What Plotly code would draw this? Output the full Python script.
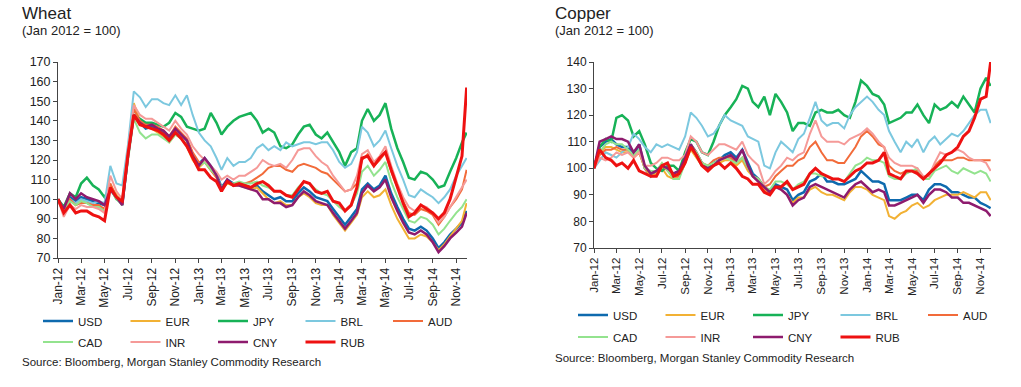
import plotly.graph_objects as go

# ---------------- data ----------------
dates = []
for y in (2012, 2013, 2014):
    for mo in range(1, 13):
        if y == 2014 and mo == 12:
            break
        dates.append(f"{y}-{mo:02d}-01")
        dates.append(f"{y}-{mo:02d}-16")
dates.append("2014-11-28")

tick_dates = ["2012-01-01", "2012-03-01", "2012-05-01", "2012-07-01", "2012-09-01", "2012-11-01",
              "2013-01-01", "2013-03-01", "2013-05-01", "2013-07-01", "2013-09-01", "2013-11-01",
              "2014-01-01", "2014-03-01", "2014-05-01", "2014-07-01", "2014-09-01", "2014-11-01"]
tick_labels = ["Jan-12", "Mar-12", "May-12", "Jul-12", "Sep-12", "Nov-12",
               "Jan-13", "Mar-13", "May-13", "Jul-13", "Sep-13", "Nov-13",
               "Jan-14", "Mar-14", "May-14", "Jul-14", "Sep-14", "Nov-14"]

currencies = ["USD", "EUR", "JPY", "BRL", "AUD", "CAD", "INR", "CNY", "RUB"]

# Wheat (Jan 2012 = 100)
wheat_usd = [100, 94, 101, 99, 101, 100, 99, 98, 97, 105,
             101, 97, 122, 143, 139, 136, 137, 136, 134, 131,
             136, 133, 130, 123, 118, 121, 117, 113, 106, 110,
             108, 108, 107, 106, 107, 104, 102, 100, 101, 99,
             99, 103, 106, 104, 101, 100, 99, 95, 91, 87,
             91, 95, 105, 108, 105, 107, 112, 103, 96, 90,
             85, 84, 86, 84, 80, 75, 78, 82, 85, 88,
             94]
wheat_eur = [100, 94, 100, 97, 99, 98, 97, 96, 95, 107,
             102, 98, 124, 149, 140, 137, 136, 134, 132, 129,
             133, 131, 127, 120, 116, 119, 115, 111, 105, 108,
             107, 107, 106, 105, 106, 103, 100, 98, 99, 97,
             97, 101, 103, 101, 98, 97, 97, 92, 88, 84,
             88, 92, 101, 104, 101, 102, 105, 97, 90, 85,
             80, 80, 82, 81, 78, 74, 77, 81, 85, 89,
             98]
wheat_jpy = [100, 96, 103, 101, 108, 111, 107, 105, 101, 106,
             100, 98, 124, 143, 141, 139, 139, 138, 137, 139,
             144, 142, 137, 136, 135, 136, 144, 139, 133, 137,
             140, 142, 143, 144, 140, 134, 136, 134, 127, 126,
             128, 133, 137, 138, 133, 131, 134, 129, 124, 117,
             124, 126, 140, 146, 140, 143, 149, 136, 126, 119,
             111, 110, 114, 113, 110, 106, 107, 114, 121, 129,
             134]
wheat_brl = [100, 95, 100, 98, 100, 99, 98, 99, 98, 117,
             108, 107, 128, 155, 152, 147, 151, 151, 149, 148,
             153, 148, 153, 143, 134, 130, 127, 121, 115, 121,
             117, 119, 119, 121, 126, 128, 125, 127, 125, 129,
             127, 128, 129, 129, 128, 129, 129, 125, 119, 116,
             118, 124, 137, 134, 127, 130, 135, 126, 117, 110,
             102, 101, 105, 103, 101, 98, 101, 105, 112, 117,
             121]
wheat_aud = [100, 94, 100, 97, 98, 98, 97, 97, 95, 108,
             101, 98, 123, 146, 140, 138, 138, 137, 135, 132,
             137, 134, 131, 124, 119, 119, 115, 111, 105, 109,
             107, 108, 108, 109, 111, 113, 116, 117, 117, 115,
             114, 117, 118, 117, 116, 114, 113, 110, 107, 104,
             105, 108, 120, 123, 117, 120, 124, 114, 106, 99,
             93, 92, 95, 94, 92, 87, 91, 96, 100, 105,
             115]
wheat_cad = [100, 94, 99, 97, 99, 98, 96, 96, 94, 105,
             100, 97, 120, 141, 134, 131, 133, 133, 131, 129,
             133, 131, 128, 121, 117, 119, 115, 112, 106, 109,
             108, 109, 108, 108, 109, 107, 106, 104, 104, 102,
             102, 106, 109, 108, 105, 103, 102, 99, 96, 94,
             97, 103, 114, 117, 112, 115, 119, 109, 101, 95,
             89, 88, 91, 90, 87, 82, 85, 89, 93, 96,
             100]
wheat_inr = [100, 91, 97, 95, 97, 96, 96, 95, 93, 112,
             104, 100, 126, 148, 143, 141, 141, 139, 137, 135,
             140, 136, 133, 127, 123, 120, 117, 114, 110, 112,
             110, 112, 112, 114, 116, 120, 118, 117, 118, 116,
             120, 125, 126, 126, 122, 119, 117, 112, 108, 104,
             105, 112, 123, 125, 119, 122, 127, 117, 108, 101,
             96, 94, 97, 96, 93, 88, 91, 96, 101, 106,
             110]
wheat_cny = [100, 95, 103, 100, 103, 101, 100, 99, 97, 105,
             101, 97, 122, 143, 139, 137, 138, 136, 135, 132,
             136, 133, 130, 122, 117, 121, 117, 112, 105, 110,
             107, 107, 106, 105, 104, 100, 100, 98, 98, 96,
             97, 101, 104, 102, 99, 98, 97, 93, 89, 85,
             89, 93, 103, 107, 104, 106, 110, 101, 94, 88,
             83, 82, 84, 82, 78, 73, 76, 80, 83, 86,
             93]
wheat_rub = [100, 93, 97, 93, 94, 94, 92, 91, 89, 106,
             101, 99, 123, 143, 138, 137, 136, 135, 133, 130,
             134, 131, 127, 121, 115, 115, 111, 109, 104, 109,
             107, 108, 107, 106, 108, 109, 107, 104, 104, 102,
             101, 105, 109, 108, 104, 103, 104, 99, 98, 94,
             97, 106, 121, 122, 117, 121, 124, 115, 106, 98,
             91, 93, 97, 95, 93, 90, 93, 100, 112, 122,
             157]

# Copper (Jan 2012 = 100)
copper_usd = [100, 108, 110, 111, 109, 108, 108, 105, 109, 100,
              97, 99, 101, 100, 98, 99, 104, 109, 106, 102,
              100, 102, 103, 105, 106, 104, 107, 102, 98, 96,
              93, 91, 94, 93, 92, 88, 90, 91, 95, 96,
              98, 95, 95, 94, 94, 95, 96, 99, 97, 95,
              95, 94, 88, 88, 88, 89, 90, 90, 88, 92,
              94, 94, 93, 91, 91, 90, 89, 89, 87, 86,
              85]
copper_eur = [100, 106, 108, 108, 107, 106, 106, 104, 106, 100,
              97, 98, 100, 97, 96, 97, 102, 107, 104, 101,
              100, 101, 102, 103, 103, 101, 103, 99, 97, 95,
              92, 91, 93, 92, 90, 87, 89, 89, 92, 93,
              91, 90, 90, 89, 88, 91, 93, 93, 92, 90,
              89, 88, 82, 81, 83, 84, 86, 87, 85, 86,
              88, 89, 90, 90, 90, 91, 90, 89, 91, 91,
              88]
copper_jpy = [100, 108, 111, 110, 119, 120, 118, 112, 114, 109,
              102, 100, 99, 101, 101, 99, 106, 111, 110, 106,
              105, 110, 116, 120, 123, 126, 131, 130, 125, 123,
              127, 120, 128, 125, 121, 114, 117, 117, 116, 121,
              122, 121, 121, 122, 120, 119, 125, 133, 131, 128,
              127, 124, 117, 118, 119, 121, 121, 124, 120, 117,
              124, 122, 123, 125, 123, 127, 124, 121, 130, 134,
              131]
copper_brl = [100, 103, 106, 105, 104, 106, 108, 113, 111, 108,
              106, 109, 108, 109, 108, 107, 112, 121, 119, 116,
              112, 113, 116, 120, 118, 117, 116, 112, 111, 110,
              101, 100, 106, 110, 108, 106, 111, 113, 119, 125,
              118, 116, 117, 117, 115, 120, 123, 125, 127, 125,
              122, 120, 114, 110, 106, 110, 108, 111, 106, 110,
              112, 109, 111, 113, 112, 114, 117, 120, 122, 122,
              117]
copper_aud = [100, 105, 107, 107, 108, 107, 107, 104, 106, 100,
              98, 99, 101, 99, 97, 97, 102, 109, 106, 102,
              101, 103, 104, 104, 104, 102, 104, 100, 97, 96,
              93, 94, 97, 99, 101, 101, 103, 104, 108, 110,
              106, 103, 103, 102, 102, 105, 108, 112, 114, 112,
              109, 108, 101, 99, 98, 99, 99, 99, 96, 98,
              101, 103, 103, 103, 104, 104, 103, 103, 103, 103,
              103]
copper_cad = [100, 106, 109, 110, 109, 109, 107, 105, 107, 100,
              99, 99, 102, 99, 96, 96, 102, 108, 106, 102,
              101, 102, 103, 104, 103, 102, 104, 100, 97, 96,
              93, 92, 95, 95, 94, 92, 94, 95, 98, 98,
              97, 97, 96, 96, 95, 98, 101, 102, 104, 103,
              103, 102, 97, 96, 96, 98, 99, 100, 96, 96,
              99, 100, 101, 99, 98, 100, 99, 98, 99, 98,
              95]
copper_inr = [100, 104, 103, 104, 106, 105, 106, 104, 106, 101,
              101, 102, 104, 104, 103, 103, 105, 112, 110, 106,
              105, 107, 109, 109, 108, 107, 110, 105, 103, 101,
              94, 96, 99, 101, 104, 103, 105, 106, 113, 118,
              112, 110, 110, 110, 109, 111, 112, 113, 115, 113,
              110, 108, 104, 102, 101, 101, 101, 100, 97, 97,
              102, 106, 105, 106, 107, 106, 104, 103, 103, 102,
              99]
copper_cny = [100, 110, 111, 112, 111, 111, 110, 106, 109, 101,
              98, 99, 101, 100, 98, 99, 104, 109, 105, 101,
              100, 101, 103, 104, 105, 103, 107, 101, 97, 95,
              93, 91, 93, 92, 90, 86, 88, 89, 93, 94,
              93, 92, 91, 90, 89, 92, 94, 95, 93, 91,
              92, 91, 86, 86, 87, 88, 89, 90, 87, 90,
              92, 92, 91, 89, 89, 87, 87, 86, 85, 84,
              82]
copper_rub = [100, 107, 104, 103, 101, 102, 100, 103, 99, 98,
              97, 97, 101, 102, 97, 98, 102, 108, 105, 101,
              99, 101, 102, 100, 102, 100, 97, 96, 94, 94,
              91, 90, 93, 93, 95, 92, 93, 94, 98, 100,
              98, 97, 96, 96, 95, 97, 99, 100, 102, 102,
              103, 106, 98, 97, 96, 99, 99, 98, 96, 98,
              100, 102, 105, 106, 108, 112, 114, 119, 126, 127,
              140]

wheat = [wheat_usd, wheat_eur, wheat_jpy, wheat_brl, wheat_aud,
         wheat_cad, wheat_inr, wheat_cny, wheat_rub]
copper = [copper_usd, copper_eur, copper_jpy, copper_brl, copper_aud,
          copper_cad, copper_inr, copper_cny, copper_rub]

# ---------------- style ----------------
colors = ["#0E6AAE", "#F2B134", "#17B257", "#7CC8DF", "#F26B3A",
          "#93E38E", "#F59A98", "#8E1B6E", "#EE1111"]
widths = [2.5, 2, 2.5, 2, 2, 2, 2, 2.5, 3]

W, H = 1021, 387
FONT = "Liberation Sans, Arial, sans-serif"
TXT = "#222222"

def px_x(p):
    return p / W

def px_y(p):
    return 1 - p / H

fig = go.Figure()
for i, c in enumerate(currencies):
    fig.add_trace(go.Scatter(
        x=dates, y=wheat[i], name=c, mode="lines",
        line=dict(color=colors[i], width=widths[i]),
        xaxis="x", yaxis="y",
        legend="legend" if i < 5 else "legend2"))
for i, c in enumerate(currencies):
    fig.add_trace(go.Scatter(
        x=dates, y=copper[i], name=c, mode="lines",
        line=dict(color=colors[i], width=widths[i]),
        xaxis="x2", yaxis="y2",
        legend="legend3" if i < 5 else "legend4"))

axis_common = dict(showgrid=False, zeroline=False, showline=True,
                   linecolor="#444444", linewidth=1, ticks="outside",
                   ticklen=4, tickcolor="#444444", automargin=False)

def legend_cfg(xp, yp):
    return dict(orientation="h", x=px_x(xp), y=px_y(yp), xanchor="left",
                yanchor="middle", entrywidth=42.5, entrywidthmode="pixels",
                font=dict(family=FONT, size=11.5, color=TXT),
                bgcolor="rgba(0,0,0,0)", borderwidth=0, itemwidth=30)

fig.update_layout(
    width=W, height=H,
    margin=dict(l=0, r=0, t=0, b=0, pad=0, autoexpand=False),
    paper_bgcolor="white", plot_bgcolor="white",
    font=dict(family=FONT, color=TXT),
    xaxis=dict(domain=[px_x(58), px_x(467)], anchor="y",
               range=["2012-01-01", "2014-11-29"],
               tickvals=tick_dates, ticktext=tick_labels, tickangle=-90,
               tickfont=dict(size=12, color=TXT), **axis_common),
    yaxis=dict(domain=[px_y(258), px_y(62)], anchor="x",
               range=[70, 170], dtick=10,
               tickfont=dict(size=12.5, color=TXT), **axis_common),
    xaxis2=dict(domain=[px_x(594), px_x(991)], anchor="y2",
                range=["2012-01-01", "2014-11-29"],
                tickvals=tick_dates, ticktext=tick_labels, tickangle=-90,
                tickfont=dict(size=11.5, color=TXT), **axis_common),
    yaxis2=dict(domain=[px_y(248), px_y(62)], anchor="x2",
                range=[70, 140], dtick=10,
                tickfont=dict(size=12, color=TXT), **axis_common),
    legend=legend_cfg(38, 321),
    legend2=legend_cfg(38, 342),
    legend3=legend_cfg(573, 315),
    legend4=legend_cfg(573, 337),
    hovermode=False,
)

def note(text, xp, yp, size):
    fig.add_annotation(text=text, xref="paper", yref="paper",
                       x=px_x(xp), y=px_y(yp), xanchor="left", yanchor="middle",
                       showarrow=False, font=dict(family=FONT, size=size, color=TXT))

note("Wheat", 20, 13.5, 17)
note("(Jan 2012 = 100)", 20, 31, 13)
note("Source: Bloomberg, Morgan Stanley Commodity Research", 20, 362, 11.5)
note("Copper", 553, 13.5, 17)
note("(Jan 2012 = 100)", 553, 31, 13)
note("Source: Bloomberg, Morgan Stanley Commodity Research", 553, 358, 11.5)

# remove the browser's default 8px page margin so the figure fills the window
fig.write_html("out.html", config={"displayModeBar": False},
               post_script="document.body.style.margin='0';document.body.style.overflow='hidden';")
